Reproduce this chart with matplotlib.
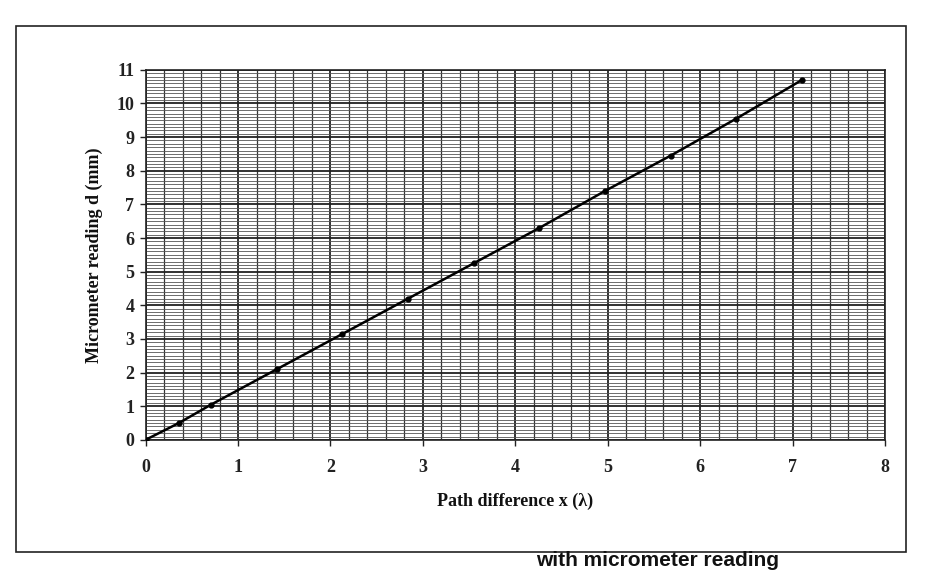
import matplotlib.pyplot as plt
from matplotlib.patches import Rectangle
from matplotlib.ticker import MultipleLocator

# path difference (in wavelengths) and micrometer reading (mm)
path_diff = [0, 0.36, 0.71, 1.42, 2.13, 2.84, 3.55, 4.26, 4.97, 5.68, 6.39, 7.1]
reading = [0, 0.5, 1.05, 2.1, 3.15, 4.2, 5.25, 6.3, 7.4, 8.45, 9.55, 10.7]

x_ticks = list(range(0, 9))
y_ticks = list(range(0, 12))

serif = ['Liberation Serif', 'DejaVu Serif']

fig = plt.figure(figsize=(9.27, 5.72), dpi=100)
ax = fig.add_axes([0.157, 0.231, 0.798, 0.647])

ax.plot(path_diff, reading, '-o', color='black', lw=1.8, ms=3.5, zorder=5)

ax.set_xlim(0, 8)
ax.set_ylim(0, 11)
ax.set_xticks(x_ticks)
ax.set_yticks(y_ticks)
ax.xaxis.set_minor_locator(MultipleLocator(0.2))
ax.yaxis.set_minor_locator(MultipleLocator(0.1))

ax.grid(which='major', color='#222222', lw=1.3)
ax.grid(which='minor', axis='x', color='#333333', lw=0.9)
ax.grid(which='minor', axis='y', color='#555555', lw=0.6)
ax.tick_params(which='minor', length=0)
ax.tick_params(which='major', length=4, width=1, color='#222222')
ax.tick_params(axis='x', pad=10)
ax.tick_params(axis='y', pad=4)

for lab in ax.get_xticklabels() + ax.get_yticklabels():
    lab.set_family(serif)
    lab.set_fontweight('bold')
    lab.set_fontsize(13)
    lab.set_color('#222222')

for sp in ax.spines.values():
    sp.set_color('#222222')
    sp.set_linewidth(1.2)

ax.set_xlabel('Path difference x (λ)', family=serif, fontweight='bold',
              fontsize=13, labelpad=12, color='#111111')
ax.set_ylabel('Micrometer reading d (mm)', family=serif, fontweight='bold',
              fontsize=13, labelpad=10, color='#111111')

# outer chart frame
fig.patches.append(Rectangle((0.017, 0.035), 0.96, 0.92, transform=fig.transFigure,
                             fill=False, edgecolor='#222222', lw=1.2))

# caption below the frame
fig.text(0.84, 0.004, 'with micrometer reading', ha='right', va='bottom',
         family=['Liberation Sans', 'DejaVu Sans'], fontweight='bold', fontsize=15,
         color='#111111')

plt.savefig('out.png', dpi=100)
plt.close()
